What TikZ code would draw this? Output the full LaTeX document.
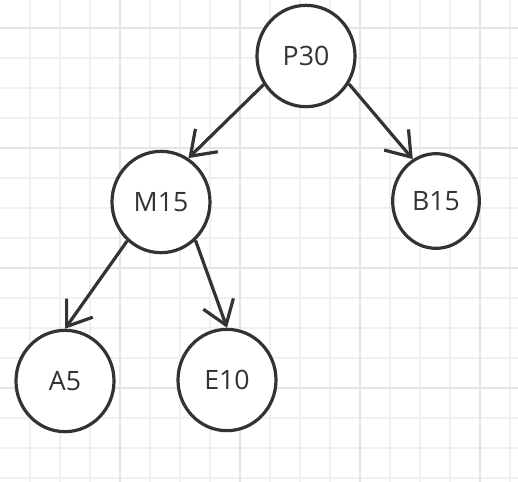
\documentclass[tikz,border=0pt]{standalone}
\usepackage{fontspec}
\setmainfont{Open Sans}
\usetikzlibrary{shapes.geometric,arrows.meta}
\definecolor{gridminor}{HTML}{F0F0F0}
\definecolor{gridmajor}{HTML}{E4E4E4}
\definecolor{ink}{HTML}{333333}

\begin{document}
\begin{tikzpicture}[
  x=0.75pt, y=-0.75pt,
  tnode/.style={ellipse, draw=ink, line width=2.4pt, fill=white, inner sep=0pt,
    minimum width=73.5pt, minimum height=76pt, text=ink, font=\fontsize{20}{22}\selectfont},
  arrow/.style={draw=ink, line width=2.4pt, -{Straight Barb[length=17pt, width=24pt]}}
]
  \useasboundingbox (0,0) rectangle (518,482);
  \fill[white] (0,0) rectangle (518,482);
  % grid
  \foreach \x in {30,60,...,510} \draw[gridminor, line width=1.5pt] (\x,0) -- (\x,482);
  \foreach \y in {28,58,...,478} \draw[gridminor, line width=1.5pt] (0,\y) -- (518,\y);
  \foreach \x in {120,240,360,480} \draw[gridmajor, line width=1.5pt] (\x,0) -- (\x,482);
  \foreach \y in {28,148,268,388} \draw[gridmajor, line width=1.5pt] (0,\y) -- (518,\y);

  \node[tnode] (p30) at (306,56) {P30};
  \node[tnode] (m15) at (161,202) {M15};
  \node[tnode, minimum width=65pt, minimum height=71pt] (b15) at (436,201) {B15};
  \node[tnode] (a5) at (65,381) {A5};
  \node[tnode] (e10) at (227,380) {E10};

  \draw[arrow] (p30.-146) -- (m15.58);
  \draw[arrow] (p30.-33) -- (b15.119);
  \draw[arrow] (m15.-131) -- (a5.north);
  \draw[arrow] (m15.-48) -- (e10.north);
\end{tikzpicture}
\end{document}
